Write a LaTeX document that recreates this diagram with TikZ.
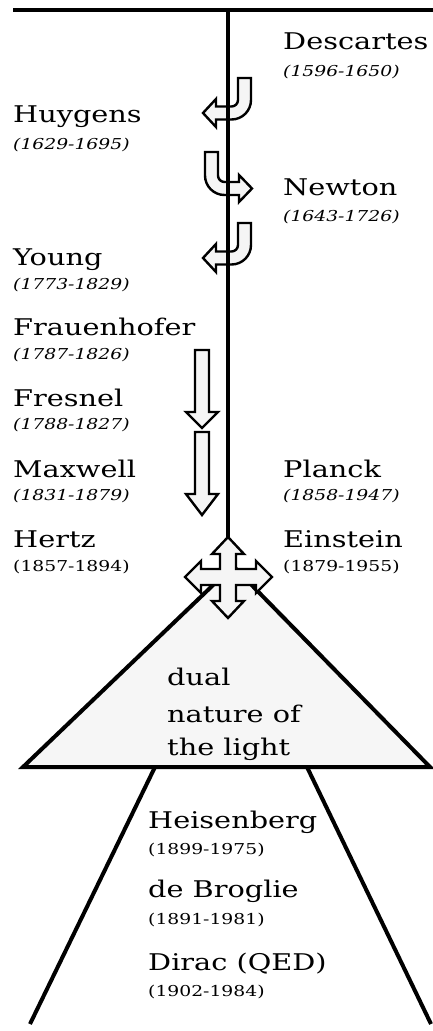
\documentclass[tikz,border=0pt]{standalone}
\usepackage{graphicx}
\usepackage{fontspec}
\setmainfont{DejaVu Serif}
\newcommand{\wideT}[1]{\scalebox{1.25}[1]{#1}}
\begin{document}
\begin{tikzpicture}[x=1pt,y=-1pt,
  nm/.style={font=\fontsize{23}{23}\selectfont, anchor=base west, inner sep=0pt},
  yr/.style={font=\fontsize{15}{15}\selectfont, anchor=base west, inner sep=0pt},
  yri/.style={font=\fontsize{15}{15}\selectfont\itshape, anchor=base west, inner sep=0pt},
  bigarrow/.style={draw=black, line width=2.4pt, fill=gray!8, line join=miter},
  heavy/.style={line width=4pt, draw=black},
  midline/.style={line width=3.5pt, draw=black}]
\useasboundingbox (0,0) rectangle (433,1031);

% triangle
\draw[heavy, fill=gray!7, line join=miter] (23,767) -- (233,566) -- (430,767) -- cycle;
% lower lines
\draw[heavy] (155,767) -- (30,1024);
\draw[heavy] (307,767) -- (431,1024);

% top and vertical lines
\draw[heavy] (13,10) -- (433,10);
\coordinate (vtop) at (228,10);
\coordinate (vbot) at (228,540);
\draw[midline] (vtop) -- (vbot);

% curved arrows
\draw[bigarrow] (238,78) -- (251,78) -- (251,100) arc[start angle=0,end angle=90,radius=19.5]
  -- (216,119.5) -- (216,127) -- (203,113) -- (216,99) -- (216,106.5) -- (231.5,106.5)
  arc[start angle=90,end angle=0,radius=6.5] -- cycle;
\draw[bigarrow] (205,152) -- (205,175.5) arc[start angle=180,end angle=90,radius=19.5]
  -- (239,195) -- (239,202) -- (252,188.5) -- (239,175) -- (239,182) -- (224.5,182)
  arc[start angle=90,end angle=180,radius=6.5] -- (218,152) -- cycle;
\draw[bigarrow] (238,223) -- (251,223) -- (251,245) arc[start angle=0,end angle=90,radius=19.5]
  -- (216,264.5) -- (216,272) -- (203,258) -- (216,244) -- (216,251.5) -- (231.5,251.5)
  arc[start angle=90,end angle=0,radius=6.5] -- cycle;

% straight down arrows
\draw[bigarrow] (195,350) -- (209,350) -- (209,412) -- (218,412) -- (202,428) -- (186,412) -- (195,412) -- cycle;
\draw[bigarrow] (195,432) -- (209,432) -- (209,494) -- (218,494) -- (202,515) -- (186,494) -- (195,494) -- cycle;

% vertical line visible through arrows
\draw[midline] (228,60) -- (228,290);

% cross arrow
\draw[bigarrow] (228,537) -- (244,554) -- (236,554) -- (236,569) -- (256,569) -- (256,561)
  -- (272,577) -- (256,593) -- (256,585) -- (236,585) -- (236,601) -- (244,601) -- (228,618)
  -- (212,601) -- (220,601) -- (220,585) -- (201,585) -- (201,593) -- (185,577) -- (201,561)
  -- (201,569) -- (220,569) -- (220,554) -- (212,554) -- cycle;

% texts
\node[nm] (descartes) at (283,49) {\wideT{Descartes}};
\node[yri] (descartesy) at (283,76) {\wideT{(1596-1650)}};
\node[nm] (huygens) at (13,122) {\wideT{Huygens}};
\node[yri] (huygensy) at (13,149) {\wideT{(1629-1695)}};
\node[nm] (newton) at (283,195) {\wideT{Newton}};
\node[yri] (newtony) at (283,221) {\wideT{(1643-1726)}};
\node[nm] (young) at (13,265) {\wideT{Young}};
\node[yri] (youngy) at (13,289) {\wideT{(1773-1829)}};
\node[nm] (frauenhofer) at (13,335) {\wideT{Frauenhofer}};
\node[yri] (frauenhofery) at (13,359) {\wideT{(1787-1826)}};
\node[nm] (fresnel) at (13,406) {\wideT{Fresnel}};
\node[yri] (fresnely) at (13,429) {\wideT{(1788-1827)}};
\node[nm] (maxwell) at (13,477) {\wideT{Maxwell}};
\node[yri] (maxwelly) at (13,500) {\wideT{(1831-1879)}};
\node[nm] (planck) at (283,477) {\wideT{Planck}};
\node[yri] (plancky) at (283,500) {\wideT{(1858-1947)}};
\node[nm] (hertz) at (13,547) {\wideT{Hertz}};
\node[yr] (hertzy) at (13,571) {\wideT{(1857-1894)}};
\node[nm] (einstein) at (283,547) {\wideT{Einstein}};
\node[yr] (einsteiny) at (283,571) {\wideT{(1879-1955)}};

\node[nm] (dual1) at (167,685) {\wideT{dual}};
\node[nm] (dual2) at (167,722) {\wideT{nature of}};
\node[nm] (dual3) at (167,755) {\wideT{the light}};

\node[nm] (heisenberg) at (148,828) {\wideT{Heisenberg}};
\node[yr] (heisenbergy) at (148,854) {\wideT{(1899-1975)}};
\node[nm] (debroglie) at (148,897) {\wideT{de Broglie}};
\node[yr] (debrogliey) at (148,924) {\wideT{(1891-1981)}};
\node[nm] (dirac) at (148,970) {\wideT{Dirac (QED)}};
\node[yr] (diracy) at (148,996) {\wideT{(1902-1984)}};
\end{tikzpicture}
\end{document}
